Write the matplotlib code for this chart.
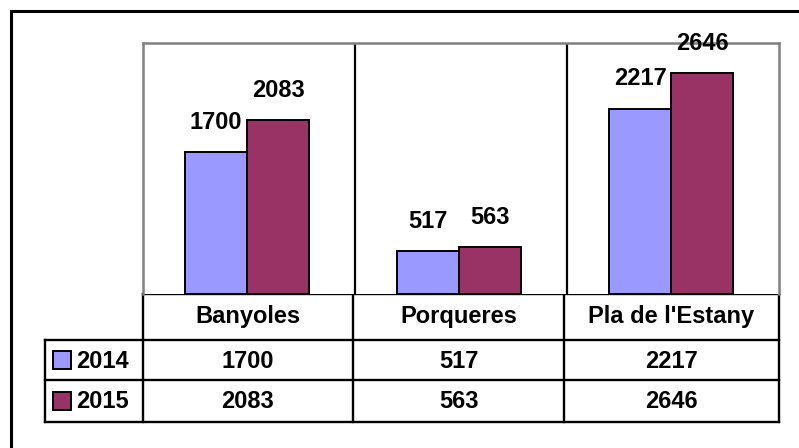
import matplotlib
matplotlib.use("Agg")
from matplotlib import pyplot as plt
from matplotlib.patches import Rectangle
import numpy as np

categories = ["Banyoles", "Porqueres", "Pla de l'Estany"]
series = ["2014", "2015"]
vals_2014 = [1700, 517, 2217]
vals_2015 = [2083, 563, 2646]
colors = ["#9999FF", "#993366"]

plt.rcParams['font.family'] = ['Liberation Sans', 'DejaVu Sans']
fs = 17

W, H = 799, 448
fig = plt.figure(figsize=(W / 100, H / 100), dpi=100)

# pixel layout
px_l, px_r, px_t, px_b = 143, 779, 43, 294
ax = fig.add_axes([px_l / W, 1 - px_b / H, (px_r - px_l) / W, (px_b - px_t) / H])
x = np.arange(len(categories))
wd = 0.293
data = [vals_2014, vals_2015]
for i, vals in enumerate(data):
    off = (i - 0.5) * wd - 0.008
    bars = ax.bar(x + off, vals, width=wd, color=colors[i], edgecolor='black', linewidth=1.4, zorder=3)
    for b, v in zip(bars, vals):
        ax.annotate(str(v), (b.get_x() + b.get_width() / 2, v), xytext=(0, 13),
                    textcoords='offset points', ha='center', va='bottom',
                    fontsize=fs, fontweight='bold', zorder=5)
ax.set_xlim(-0.5, len(categories) - 0.5)
ax.set_ylim(0, 3000)
ax.set_xticks([])
ax.set_yticks([])
for k in range(1, len(categories)):
    ax.axvline(k - 0.5, color='black', lw=1.6, zorder=2)
for s in ['top', 'left', 'right']:
    ax.spines[s].set_color('#808080')
    ax.spines[s].set_linewidth(1.8)
ax.spines['bottom'].set_visible(False)

# overlay for table and frame
ov = fig.add_axes([0, 0, 1, 1], zorder=-1)
ov.set_xlim(0, W)
ov.set_ylim(H, 0)
ov.axis('off')
lw = 1.7
ov.plot([11, 11], [11, H], color='black', lw=2.2)
ov.plot([11, W], [11, 11], color='black', lw=2.2)

cols = [45, 143, 353, 564, 779]
rows = [294, 340, 380, 422]
ov.plot([cols[1], cols[-1]], [rows[0], rows[0]], color='black', lw=lw)
for yy in rows[1:]:
    ov.plot([cols[0], cols[-1]], [yy, yy], color='black', lw=lw)
ov.plot([cols[0], cols[0]], [rows[1], rows[-1]], color='black', lw=lw)
for xx in cols[1:]:
    ov.plot([xx, xx], [rows[0], rows[-1]], color='black', lw=lw)

for j, c in enumerate(categories):
    cx = (cols[j + 1] + cols[j + 2]) / 2
    ov.text(cx, (rows[0] + rows[1]) / 2, c, ha='center', va='center',
            fontsize=fs, fontweight='bold')
    for i, vals in enumerate(data):
        ov.text(cx, (rows[i + 1] + rows[i + 2]) / 2 + 1, str(vals[j]), ha='center',
                va='center', fontsize=fs, fontweight='bold')

for i, s in enumerate(series):
    cy = (rows[i + 1] + rows[i + 2]) / 2
    ov.add_patch(Rectangle((53, cy - 9), 18, 18, facecolor=colors[i], edgecolor='black', lw=1.4))
    ov.text(76, cy + 1, s, ha='left', va='center', fontsize=fs, fontweight='bold')

fig.savefig("out.png", dpi=100)
